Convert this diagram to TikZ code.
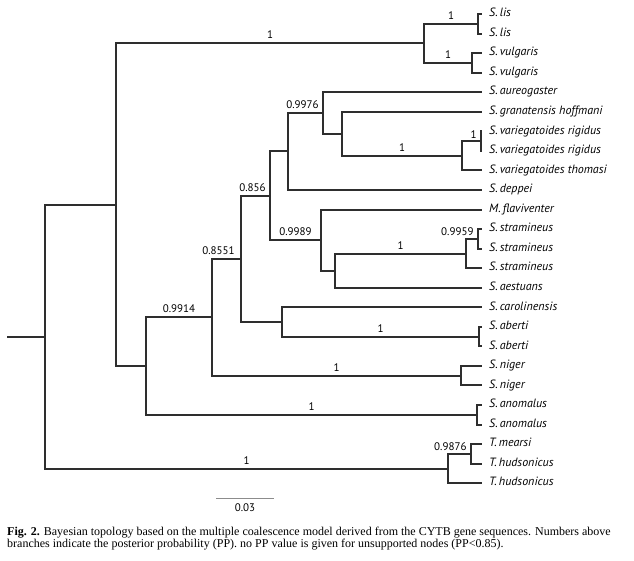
\documentclass[tikz,border=0pt]{standalone}
\usepackage{fontspec}
\setmainfont{Liberation Serif}
\newfontfamily\treefont{PT Sans}
\usetikzlibrary{calc,positioning}
\tikzset{
	branch/.style={draw=black!82, line width=2pt},
	taxon/.style={
		anchor=west,
		inner xsep=7pt, inner ysep=0pt,
		text height=1.6ex, text depth=.4ex,
		font=\treefont\itshape\fontsize{12}{12}\selectfont},
	pp/.style={
		pos=.75, above, inner sep=1pt, yshift=2.5pt,
		font=\treefont\fontsize{11}{12}\selectfont},
	ppleft/.style={
		pos=1, anchor=south east, inner sep=1pt, xshift=-2.5pt, yshift=1pt,
		font=\treefont\fontsize{11}{12}\selectfont},
	scalebar/.style={draw=black!45, line width=1pt},
}

\begin{document}
\begin{tikzpicture}[x=1pt, y=-1pt]
\useasboundingbox (0,0) rectangle (634,560);

% taxa
\node[taxon] (lisA)  at (482,14)     {S.\,lis};
\node[taxon] (lisB)  at (482,33.55)  {S.\,lis};
\node[taxon] (vulA)  at (482,53.1)   {S.\,vulgaris};
\node[taxon] (vulB)  at (482,72.65)  {S.\,vulgaris};
\node[taxon] (aur)   at (482,92.2)   {S.\,aureogaster};
\node[taxon] (gra)   at (482,111.75) {S.\,granatensis hoffmani};
\node[taxon] (rigA)  at (482,131.3)  {S.\,variegatoides rigidus};
\node[taxon] (rigB)  at (482,150.85) {S.\,variegatoides rigidus};
\node[taxon] (tho)   at (482,170.4)  {S.\,variegatoides thomasi};
\node[taxon] (dep)   at (482,189.95) {S.\,deppei};
\node[taxon] (fla)   at (482,209.5)  {M.\,flaviventer};
\node[taxon] (strA)  at (482,229.05) {S.\,stramineus};
\node[taxon] (strB)  at (482,248.6)  {S.\,stramineus};
\node[taxon] (strC)  at (482,268.15) {S.\,stramineus};
\node[taxon] (aes)   at (482,287.7)  {S.\,aestuans};
\node[taxon] (car)   at (482,307.25) {S.\,carolinensis};
\node[taxon] (abeA)  at (482,326.8)  {S.\,aberti};
\node[taxon] (abeB)  at (482,346.35) {S.\,aberti};
\node[taxon] (nigA)  at (482,365.9)  {S.\,niger};
\node[taxon] (nigB)  at (482,385.45) {S.\,niger};
\node[taxon] (anoA)  at (482,405)    {S.\,anomalus};
\node[taxon] (anoB)  at (482,424.55) {S.\,anomalus};
\node[taxon] (mea)   at (482,444.1)  {T.\,mearsi};
\node[taxon] (hudA)  at (482,463.65) {T.\,hudsonicus};
\node[taxon] (hudB)  at (482,483.2)  {T.\,hudsonicus};

% internal nodes
\coordinate (stem)   at (7,336.6);
\coordinate (root)   at (45,336.6);
\coordinate (ingr)   at (116,204.65);
\coordinate (topcl)  at (424,43.3);
\coordinate (liscl)  at (478,23.8);
\coordinate (vulcl)  at (472,62.9);
\coordinate (midcl)  at (146,366);
\coordinate (n9914)  at (212,317.25);
\coordinate (n8551)  at (241,258.8);
\coordinate (n856)   at (270,195.75);
\coordinate (depcl)  at (288,151.45);
\coordinate (n9976)  at (323,112.95);
\coordinate (gracl)  at (342,133.7);
\coordinate (varcl)  at (462,155.7);
\coordinate (rigcl)  at (481,141.1);
\coordinate (n9989)  at (321,240.05);
\coordinate (aescl)  at (335,270.6);
\coordinate (strcl)  at (466,253.5);
\coordinate (n9959)  at (478,238.8);
\coordinate (carcl)  at (282,321.9);
\coordinate (abecl)  at (479,336.6);
\coordinate (nigcl)  at (461,375.7);
\coordinate (anocl)  at (477,414.8);
\coordinate (outcl)  at (448,468.55);
\coordinate (n9876)  at (471,453.9);

% branches
\draw[branch] (stem) -- (root);
\draw[branch] (root) |- (ingr);
\draw[branch] (root) |- node[pp] {1} (outcl);
\draw[branch] (ingr) |- node[pp] {1} (topcl);
\draw[branch] (ingr) |- (midcl);
\draw[branch] (topcl) |- node[pp] {1} (liscl);
\draw[branch] (topcl) |- node[pp] {1} (vulcl);
\draw[branch] (liscl) |- (lisA);
\draw[branch] (liscl) |- (lisB);
\draw[branch] (vulcl) |- (vulA);
\draw[branch] (vulcl) |- (vulB);
\draw[branch] (midcl) |- node[pp] {0.9914} (n9914);
\draw[branch] (midcl) |- node[pp] {1} (anocl);
\draw[branch] (n9914) |- node[pp, xshift=-8pt] {0.8551} (n8551);
\draw[branch] (n9914) |- node[pp] {1} (nigcl);
\draw[branch] (n8551) |- node[pp, xshift=-3pt] {0.856} (n856);
\draw[branch] (n8551) |- (carcl);
\draw[branch] (n856) |- (depcl);
\draw[branch] (n856) |- node[pp] {0.9989} (n9989);
\draw[branch] (depcl) |- node[pp, xshift=-3pt] {0.9976} (n9976);
\draw[branch] (depcl) |- (dep);
\draw[branch] (n9976) |- (aur);
\draw[branch] (n9976) |- (gracl);
\draw[branch] (gracl) |- (gra);
\draw[branch] (gracl) |- node[pp] {1} (varcl);
\draw[branch] (varcl) |- node[ppleft] {1} (rigcl);
\draw[branch] (varcl) |- (tho);
\draw[branch] (rigcl) |- (rigA);
\draw[branch] (rigcl) |- (rigB);
\draw[branch] (n9989) |- (fla);
\draw[branch] (n9989) |- (aescl);
\draw[branch] (aescl) |- node[pp] {1} (strcl);
\draw[branch] (aescl) |- (aes);
\draw[branch] (strcl) |- node[ppleft] {0.9959} (n9959);
\draw[branch] (strcl) |- (strC);
\draw[branch] (n9959) |- (strA);
\draw[branch] (n9959) |- (strB);
\draw[branch] (carcl) |- (car);
\draw[branch] (carcl) |- node[pp] {1} (abecl);
\draw[branch] (abecl) |- (abeA);
\draw[branch] (abecl) |- (abeB);
\draw[branch] (nigcl) |- (nigA);
\draw[branch] (nigcl) |- (nigB);
\draw[branch] (anocl) |- (anoA);
\draw[branch] (anocl) |- (anoB);
\draw[branch] (outcl) |- node[ppleft] {0.9876} (n9876);
\draw[branch] (outcl) |- (hudB);
\draw[branch] (n9876) |- (mea);
\draw[branch] (n9876) |- (hudA);

% scale bar
\coordinate (sbL) at (216,498);
\coordinate (sbR) at (274,498);
\draw[scalebar] (sbL) -- (sbR);
\node[font=\treefont\fontsize{11}{12}\selectfont, below=2pt of $(sbL)!.5!(sbR)$] (sblab) {0.03};

% caption
\node[anchor=north west, inner sep=0pt, align=left,
	font=\fontsize{12}{12}\selectfont] (caption) at (7,527)
	{\textbf{Fig. 2.} Bayesian topology based on the multiple coalescence model derived from the CYTB gene sequences. Numbers above\\
	branches indicate the posterior probability (PP). no PP value is given for unsupported nodes (PP<0.85).};
\end{tikzpicture}
\end{document}
